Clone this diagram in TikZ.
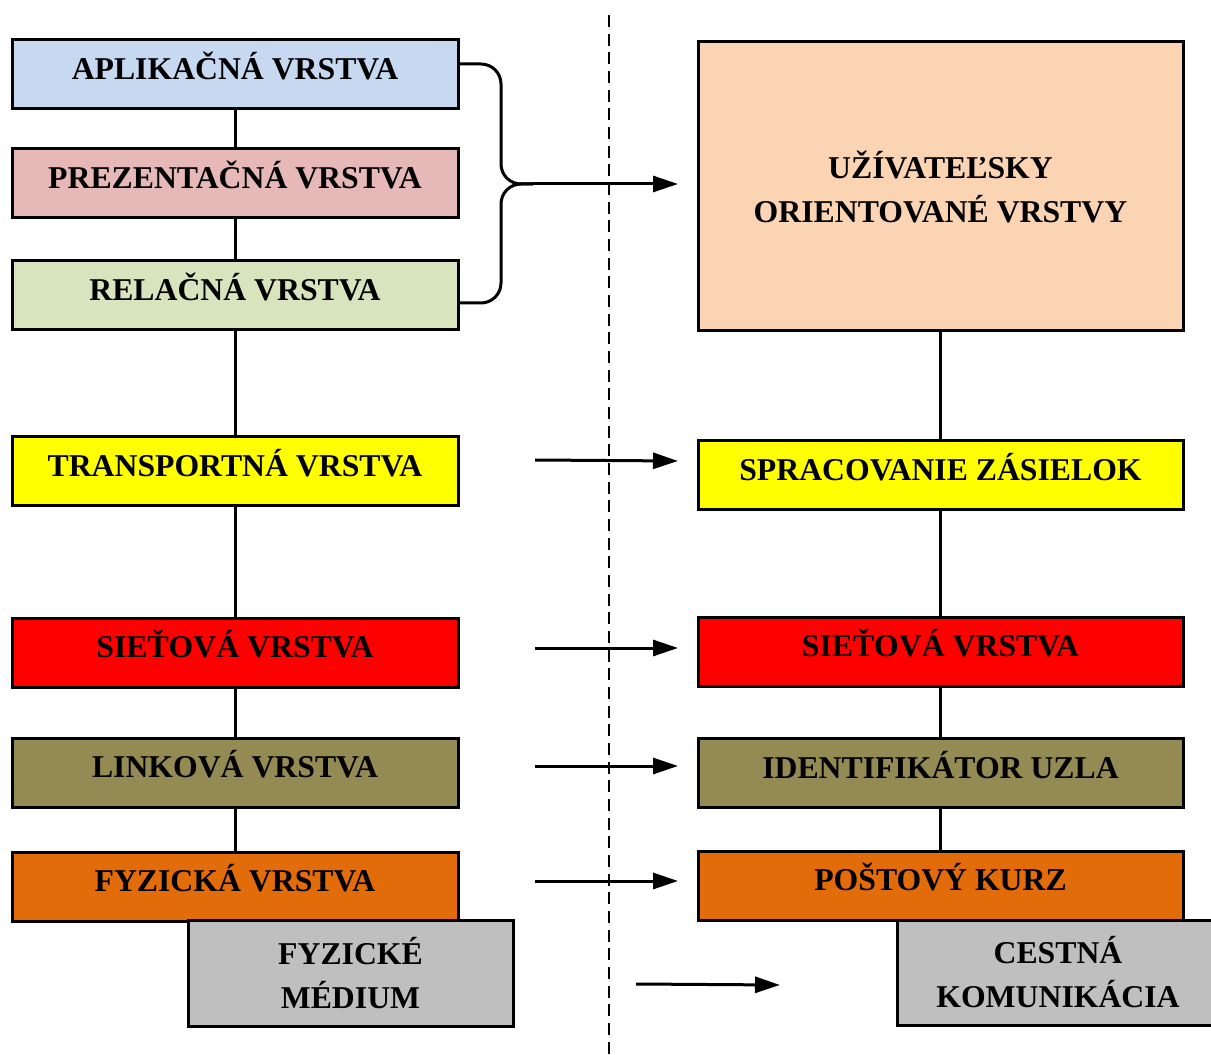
\documentclass[tikz,border=0pt]{standalone}
\usepackage{fontspec}
\setmainfont{Liberation Serif}
\usetikzlibrary{arrows.meta}
\definecolor{cblue}{RGB}{198,217,240}
\definecolor{cpink}{RGB}{230,185,184}
\definecolor{cgreen}{RGB}{215,228,189}
\definecolor{cyel}{RGB}{255,255,0}
\definecolor{cred}{RGB}{255,0,0}
\definecolor{colive}{RGB}{148,138,84}
\definecolor{corange}{RGB}{226,107,10}
\definecolor{cgray}{RGB}{191,191,191}
\definecolor{cpeach}{RGB}{251,212,180}
\tikzset{
  box/.style={draw=black, line width=2.25pt, inner sep=0pt, align=center,
    font=\fontsize{23.8}{33}\selectfont\bfseries},
  onel/.style={text height=0.79em, text depth=0pt},
  lbox/.style={box, onel, minimum width=334.5pt, minimum height=51.75pt},
  rbox/.style={box, onel, minimum width=363.75pt, minimum height=51.75pt},
  conn/.style={line width=2.25pt},
  arr/.style={line width=2.25pt, -{Triangle[length=18.75pt,width=12pt]}},
}
\begin{document}
\begin{tikzpicture}[x=0.75pt,y=-0.75pt]
\useasboundingbox (0,0) rectangle (1211,1055);
\fill[white] (0,0) rectangle (1211,1055);
% dashed divider
\coordinate (dtop) at (609,15);
\coordinate (dbot) at (609,1055);
\draw[line width=1.1pt, dash pattern=on 9pt off 5pt] (dtop) -- (dbot);
% left column
\node[lbox, fill=cblue] (ap) at (235,74) {APLIKAČNÁ VRSTVA};
\node[lbox, fill=cpink] (pr) at (235,183.5) {PREZENTAČNÁ VRSTVA};
\node[lbox, fill=cgreen] (re) at (235,295) {RELAČNÁ VRSTVA};
\node[lbox, fill=cyel] (tr) at (235,471.5) {TRANSPORTNÁ VRSTVA};
\node[lbox, fill=cred] (si) at (235,652.5) {SIEŤOVÁ VRSTVA};
\node[lbox, fill=colive] (li) at (235,772.5) {LINKOVÁ VRSTVA};
\node[lbox, fill=corange] (fy) at (235,886.5) {FYZICKÁ VRSTVA};
\node[box, fill=cgray, minimum width=243.75pt, minimum height=79.5pt] (me) at (350.5,973) {FYZICKÉ\\MÉDIUM};
\draw[conn] (ap) -- (pr);
\draw[conn] (pr) -- (re);
\draw[conn] (re) -- (tr);
\draw[conn] (tr) -- (si);
\draw[conn] (si) -- (li);
\draw[conn] (li) -- (fy);
% right column
\node[box, fill=cpeach, minimum width=363.75pt, minimum height=216.75pt] (uz) at (940.5,186.5) {UŽÍVATEĽSKY\\ORIENTOVANÉ VRSTVY};
\node[rbox, fill=cyel] (sp) at (940.5,475.5) {SPRACOVANIE ZÁSIELOK};
\node[rbox, fill=cred] (ns) at (940.5,651.5) {SIEŤOVÁ VRSTVA};
\node[rbox, fill=colive] (id) at (940.5,773) {IDENTIFIKÁTOR UZLA};
\node[rbox, fill=corange] (po) at (940.5,885.5) {POŠTOVÝ KURZ};
\node[box, fill=cgray, minimum width=241.5pt, minimum height=78.75pt] (ce) at (1058,972.5) {CESTNÁ\\KOMUNIKÁCIA};
\draw[conn] (uz) -- (sp);
\draw[conn] (sp) -- (ns);
\draw[conn] (ns) -- (id);
\draw[conn] (id) -- (po);
% brace
\coordinate (bt) at (533,184);
\coordinate (be) at (678,184);
\draw[conn, rounded corners=15pt] ([yshift=7.5pt]ap.east) -- (501,64) -- (501,184) -- (bt);
\draw[conn, rounded corners=15pt] ([yshift=-6pt]re.east) -- (501,303) -- (501,184) -- (bt);
\draw[arr] (bt) -- (be);
% arrows
\coordinate (a1s) at (535,460); \coordinate (a1e) at (678,461);
\coordinate (a2s) at (535,648); \coordinate (a2e) at (678,648);
\coordinate (a3s) at (535,766); \coordinate (a3e) at (678,766);
\coordinate (a4s) at (535,881); \coordinate (a4e) at (678,881);
\coordinate (a5s) at (636,984); \coordinate (a5e) at (780,985);
\draw[arr] (a1s) -- (a1e);
\draw[arr] (a2s) -- (a2e);
\draw[arr] (a3s) -- (a3e);
\draw[arr] (a4s) -- (a4e);
\draw[arr] (a5s) -- (a5e);
\end{tikzpicture}
\end{document}
